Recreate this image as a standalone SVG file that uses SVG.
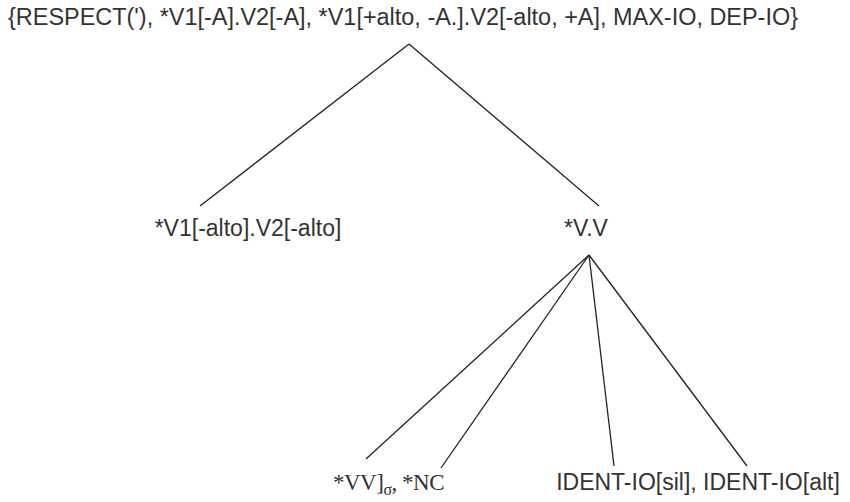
<svg xmlns="http://www.w3.org/2000/svg" width="850" height="502" viewBox="0 0 850 502">
<style>
.t{font-family:"Liberation Sans",Arial,sans-serif;font-size:23px;fill:#333;text-anchor:middle}
.s{font-family:"Liberation Serif","Times New Roman",serif;font-size:23px;fill:#333}
.e{stroke:#222;stroke-width:1.3;fill:none}
</style>
<rect width="850" height="502" fill="#fff"/>
<g id="connectors">
<line class="e" x1="409" y1="44" x2="200" y2="206"/>
<line class="e" x1="409" y1="44" x2="599" y2="206"/>
<line class="e" x1="589" y1="255" x2="366" y2="459"/>
<line class="e" x1="589" y1="255" x2="441" y2="468"/>
<line class="e" x1="589" y1="255" x2="614" y2="466"/>
<line class="e" x1="589" y1="255" x2="747" y2="466"/>
</g>
<g id="root"><text class="t" x="403" y="25" textLength="790" lengthAdjust="spacingAndGlyphs">{RESPECT('), *V1[-A].V2[-A], *V1[+alto, -A.].V2[-alto, +A], MAX-IO, DEP-IO}</text></g>
<g id="n1"><text class="t" x="248" y="236">*V1[-alto].V2[-alto]</text></g>
<g id="n2"><text class="t" x="586" y="236">*V.V</text></g>
<g id="n3"><text class="s" x="333" y="490" letter-spacing="-0.5">*VV]<tspan font-size="16" dy="5">σ</tspan><tspan dy="-5">, *NC</tspan></text></g>
<g id="n4"><text class="t" x="698" y="490">IDENT-IO[sil], IDENT-IO[alt]</text></g>
</svg>
